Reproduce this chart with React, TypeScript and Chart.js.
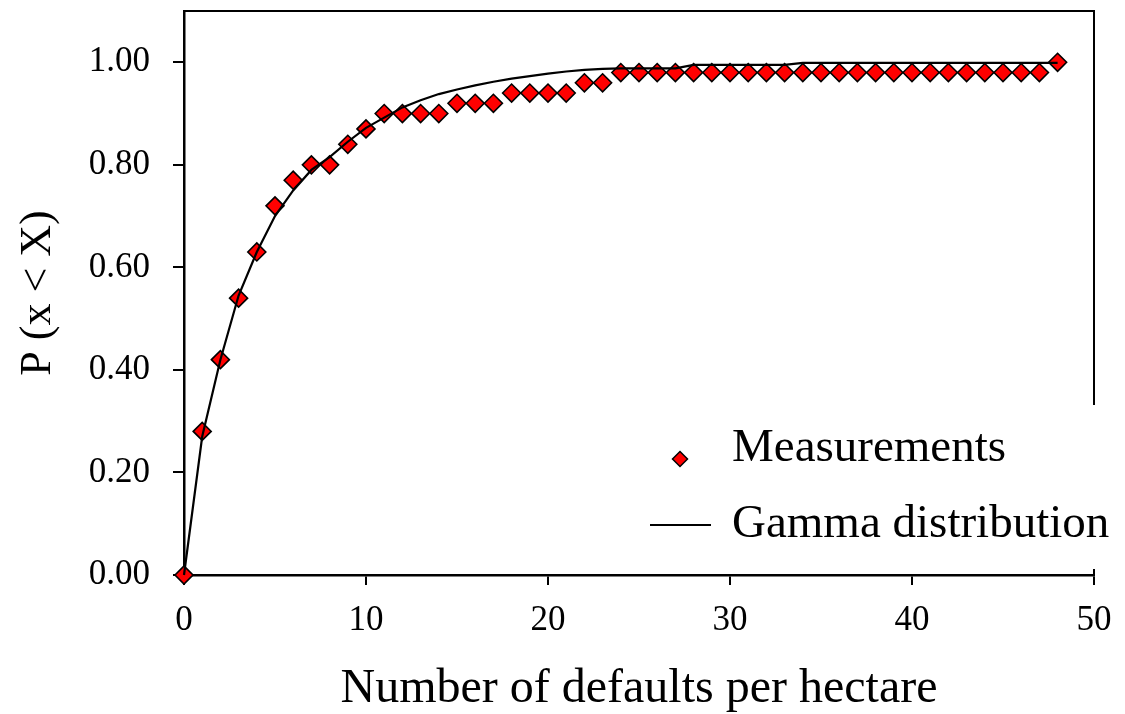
import { useEffect, useRef } from "react";
import { Chart, registerables } from "chart.js";

Chart.register(...registerables);

// Number of defaults per hectare (x positions of both series)
const defaultsPerHectare = [
  0, 1, 2, 3, 4, 5, 6, 7, 8, 9, 10, 11, 12, 13, 14, 15, 16, 17, 18, 19, 20, 21, 22, 23, 24,
  25, 26, 27, 28, 29, 30, 31, 32, 33, 34, 35, 36, 37, 38, 39, 40, 41, 42, 43, 44, 45, 46, 47, 48,
];

// Empirical cumulative probability P(x < X)
const measured = [
  0, 0.28, 0.42, 0.54, 0.63, 0.72, 0.77, 0.8, 0.8, 0.84, 0.87, 0.9, 0.9, 0.9, 0.9, 0.92, 0.92,
  0.92, 0.94, 0.94, 0.94, 0.94, 0.96, 0.96, 0.98, 0.98, 0.98, 0.98, 0.98, 0.98, 0.98, 0.98, 0.98,
  0.98, 0.98, 0.98, 0.98, 0.98, 0.98, 0.98, 0.98, 0.98, 0.98, 0.98, 0.98, 0.98, 0.98, 0.98, 1.0,
];

// Fitted gamma distribution CDF
const gammaCdf = [
  0, 0.27, 0.42, 0.545, 0.63, 0.7, 0.75, 0.79, 0.815, 0.845, 0.872, 0.892, 0.912, 0.926, 0.938,
  0.947, 0.955, 0.962, 0.968, 0.973, 0.978, 0.982, 0.985, 0.987, 0.988, 0.988, 0.988, 0.988,
  0.995, 0.995, 0.995, 0.995, 0.995, 0.995, 0.999, 0.999, 0.999, 0.999, 0.999, 0.999, 0.999,
  0.999, 0.999, 0.999, 0.999, 0.999, 0.999, 0.999, 0.999,
];

const xAxisTicks = [0, 10, 20, 30, 40, 50];
const yAxisTicks = [0, 0.2, 0.4, 0.6, 0.8, 1.0];

const seriesLabels = ["Measurements", "Gamma distribution"];
const xTitle = "Number of defaults per hectare";
const yTitle = "P (x < X)";

const SERIF = '"Liberation Serif", "Times New Roman", Times, serif';

// Top and right border of the plot frame
const framePlugin = {
  id: "plotFrame",
  beforeDatasetsDraw(chart: any) {
    const { ctx, chartArea } = chart;
    const { left, right, top, bottom } = chartArea;
    ctx.save();
    ctx.strokeStyle = "#000";
    ctx.lineWidth = 2;
    ctx.beginPath();
    ctx.moveTo(left, top);
    ctx.lineTo(right, top);
    ctx.lineTo(right, bottom);
    ctx.stroke();
    ctx.restore();
  },
};

// Legend box in the lower-right corner of the plot
const legendPlugin = {
  id: "cornerLegend",
  afterDraw(chart: any) {
    const { ctx } = chart;
    const ds = chart.data.datasets;
    const boxLeft = 640;
    const boxTop = 405;
    const boxBottom = 569;
    ctx.save();
    ctx.fillStyle = "#fff";
    ctx.fillRect(boxLeft, boxTop, chart.width - boxLeft, boxBottom - boxTop);

    // marker sample
    const mx = 680;
    const my = 459;
    const r = 7.5;
    ctx.beginPath();
    ctx.moveTo(mx - r, my);
    ctx.lineTo(mx, my - r);
    ctx.lineTo(mx + r, my);
    ctx.lineTo(mx, my + r);
    ctx.closePath();
    ctx.fillStyle = ds[1].backgroundColor;
    ctx.fill();
    ctx.lineWidth = 1.5;
    ctx.strokeStyle = ds[1].borderColor;
    ctx.stroke();

    // line sample
    ctx.beginPath();
    ctx.moveTo(650, 525);
    ctx.lineTo(711, 525);
    ctx.lineWidth = 2;
    ctx.strokeStyle = ds[0].borderColor;
    ctx.stroke();

    ctx.fillStyle = "#000";
    ctx.font = `47px ${SERIF}`;
    ctx.textAlign = "left";
    ctx.textBaseline = "alphabetic";
    ctx.fillText(ds[1].label, 732, 461);
    ctx.fillText(ds[0].label, 732, 537);
    ctx.restore();
  },
};

export default function App() {
  const canvasRef = useRef<HTMLCanvasElement | null>(null);

  useEffect(() => {
    const canvas = canvasRef.current;
    if (!canvas) return;

    const gammaPoints = defaultsPerHectare.map((x, i) => ({ x, y: gammaCdf[i] }));
    const measuredPoints = defaultsPerHectare.map((x, i) => ({ x, y: measured[i] }));

    const chart = new Chart(canvas, {
      type: "scatter",
      data: {
        datasets: [
          {
            type: "line",
            label: seriesLabels[1],
            data: gammaPoints,
            borderColor: "#000",
            backgroundColor: "#000",
            borderWidth: 2.2,
            pointRadius: 0,
            tension: 0,
            fill: false,
            clip: false,
          } as any,
          {
            type: "scatter",
            label: seriesLabels[0],
            data: measuredPoints,
            pointStyle: "rectRot",
            pointRadius: 9,
            pointBorderWidth: 1.6,
            backgroundColor: "#ff0000",
            borderColor: "#000",
            clip: false,
          } as any,
        ],
      },
      options: {
        responsive: false,
        animation: false,
        devicePixelRatio: 1,
        layout: { padding: { top: 11, right: 31, left: 0, bottom: 0 } },
        plugins: {
          legend: { display: false },
          tooltip: { enabled: false },
        },
        scales: {
          x: {
            type: "linear",
            min: xAxisTicks[0],
            max: xAxisTicks[xAxisTicks.length - 1],
            afterFit(scale: any) {
              scale.height = 139;
              scale.paddingLeft = 0;
              scale.paddingRight = 0;
            },
            afterBuildTicks(scale: any) {
              scale.ticks = xAxisTicks.map((v) => ({ value: v }));
            },
            border: { display: true, color: "#000", width: 2.5 },
            grid: {
              display: true,
              drawOnChartArea: false,
              drawTicks: true,
              tickLength: 10,
              color: "#000",
              lineWidth: 2,
            },
            ticks: {
              color: "#000",
              font: { family: SERIF, size: 35 },
              padding: 15,
              maxRotation: 0,
              callback: (v: any) => String(v),
            },
            title: {
              display: true,
              text: xTitle,
              color: "#000",
              font: { family: SERIF, size: 48 },
              padding: { top: 0, bottom: -4 },
            },
          },
          y: {
            type: "linear",
            min: 0,
            max: 1.1,
            afterFit(scale: any) {
              scale.width = 184;
              scale.paddingTop = 0;
              scale.paddingBottom = 0;
            },
            afterBuildTicks(scale: any) {
              scale.ticks = yAxisTicks.map((v) => ({ value: v }));
            },
            border: { display: true, color: "#000", width: 2.5 },
            grid: {
              display: true,
              drawOnChartArea: false,
              drawTicks: true,
              tickLength: 11,
              color: "#000",
              lineWidth: 2,
            },
            ticks: {
              color: "#000",
              font: { family: SERIF, size: 35 },
              padding: 23,
              callback: (v: any) => Number(v).toFixed(2),
            },
            title: {
              display: true,
              text: yTitle,
              color: "#000",
              font: { family: SERIF, size: 44 },
              padding: { top: 12, bottom: 0 },
            },
          },
        },
      },
      plugins: [framePlugin, legendPlugin],
    });

    return () => chart.destroy();
  }, []);

  return (
    <div style={{ position: "absolute", left: 0, top: 0, width: 1125, height: 714, background: "#fff" }}>
      <canvas ref={canvasRef} width={1125} height={714} style={{ display: "block" }} />
    </div>
  );
}
